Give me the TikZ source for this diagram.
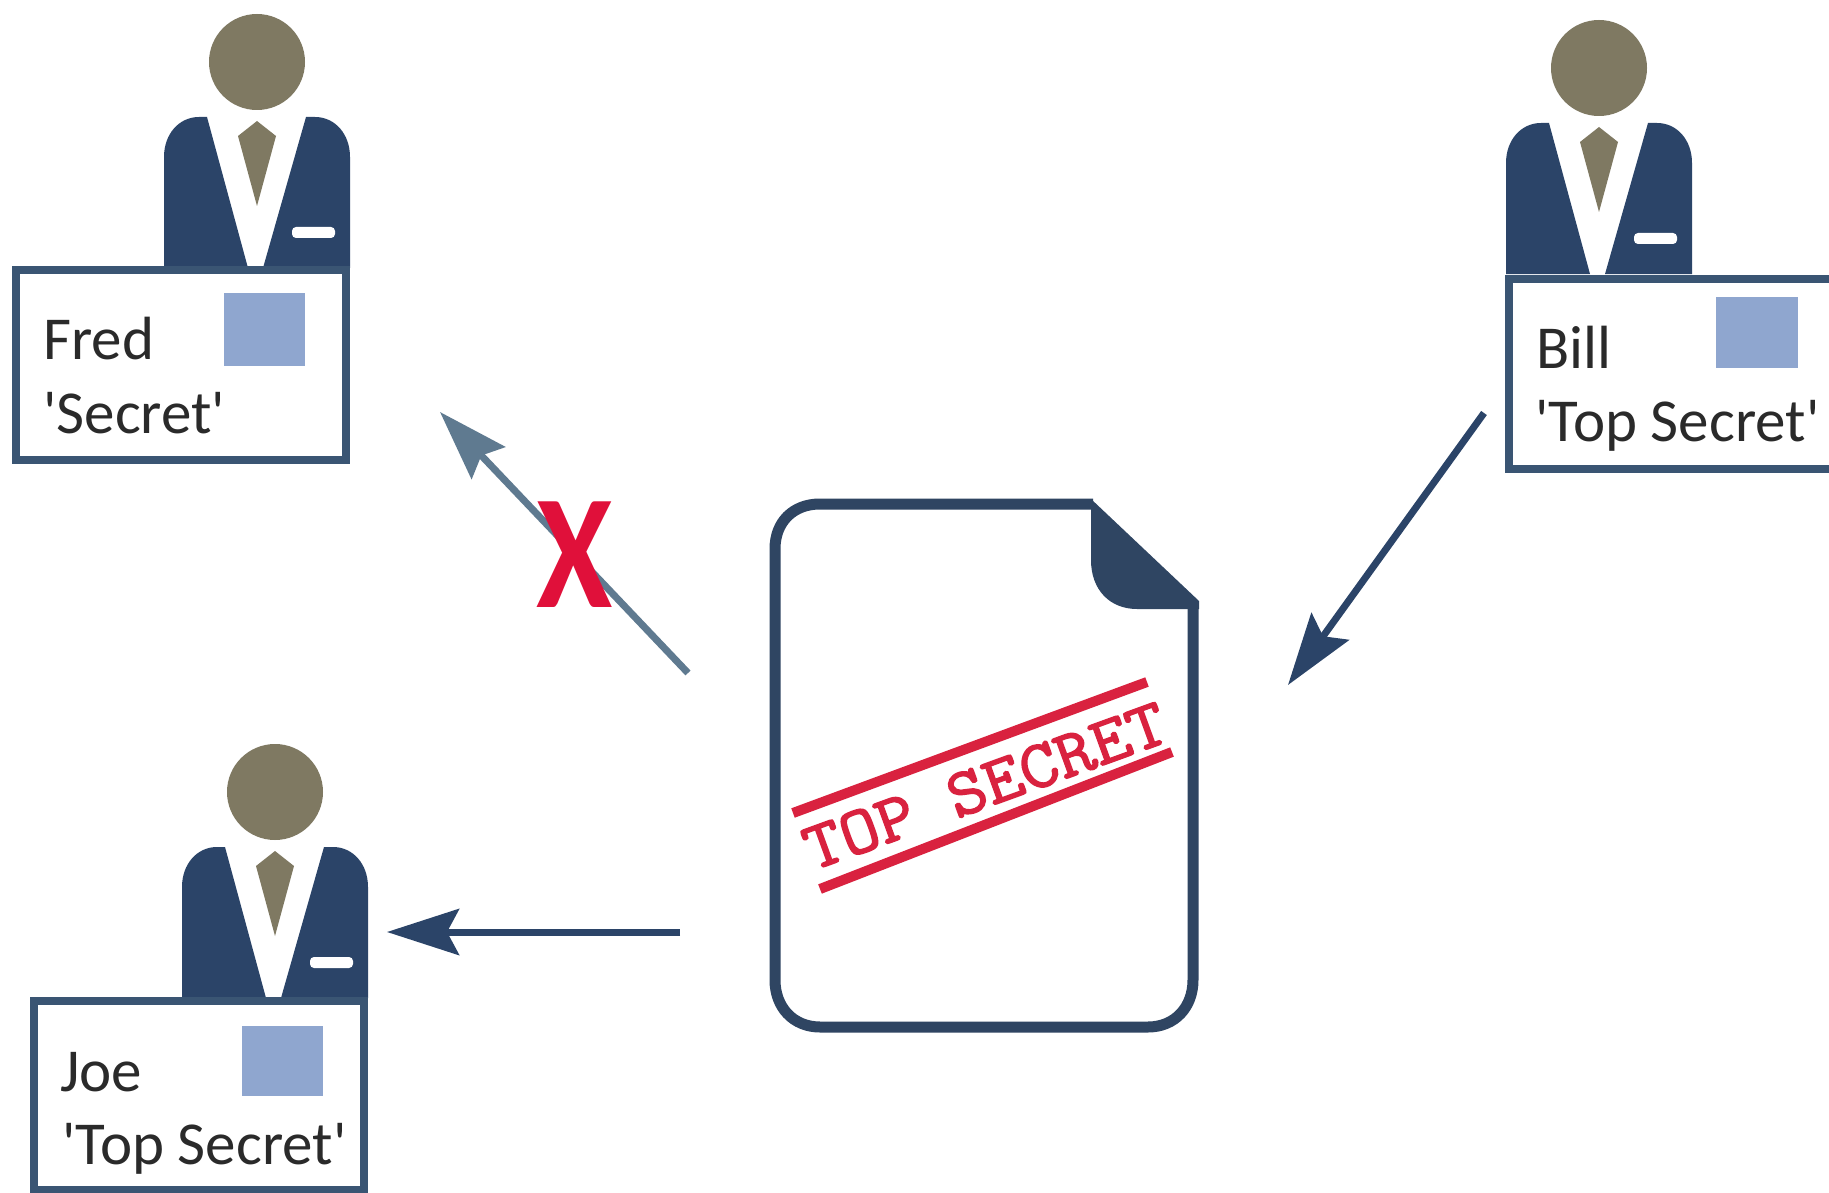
\documentclass[tikz,border=0pt]{standalone}
\usepackage{fontspec}
\usetikzlibrary{arrows.meta}
\newfontfamily\cardfont{Carlito}
\newfontfamily\stampfont{Latin Modern Mono}[FakeBold=2]
\definecolor{navy}{HTML}{2B4468}
\definecolor{docedge}{HTML}{2F4562}
\definecolor{cardedge}{HTML}{3A5573}
\definecolor{skin}{HTML}{7F7962}
\definecolor{badge}{HTML}{8FA6CF}
\definecolor{ink}{HTML}{2A2A2A}
\definecolor{stampred}{HTML}{D9223F}
\definecolor{crossred}{HTML}{E0103A}
\definecolor{slate}{HTML}{5F7A90}
\tikzset{
  x=1pt,y=-1pt,
  person/.pic={
    \fill[skin] (0,0) circle[radius=48];
    \fill[navy] (-93,206) -- (-93,95) .. controls (-93,72) and (-78,55) .. (-58,55) -- (-50,55) -- (-9,206) -- cycle;
    \fill[navy] (93,206) -- (93,95) .. controls (93,72) and (78,55) .. (58,55) -- (49,55) -- (6,206) -- cycle;
    \fill[skin] (0,59) -- (19,74) -- (0,144) -- (-19,74) -- cycle;
    \fill[white,rounded corners=4] (35,165) rectangle (78,176);
  },
  cardbox/.style={draw=cardedge,line width=8pt,fill=white},
  badgebox/.style={fill=badge},
  cardtext/.style={font=\cardfont\fontsize{61}{63}\selectfont,text=ink,anchor=base west,inner sep=0pt},
  flow/.style={draw=navy,line width=7pt,-{Stealth[length=72pt,width=46pt,inset=12pt]}},
  blocked/.style={draw=slate,line width=7pt,-{Stealth[length=70pt,width=46pt,inset=10pt]}},
  stampline/.style={draw=stampred,line width=10pt},
  stamptext/.style={font=\stampfont\fontsize{65}{66}\selectfont,text=stampred,inner sep=0pt,rotate=20},
  crossmark/.style={font=\cardfont\bfseries\fontsize{163}{165}\selectfont,text=crossred,inner sep=0pt,anchor=base},
}
\begin{document}
\begin{tikzpicture}
\useasboundingbox (0,0) rectangle (1829,1193);
\fill[white] (0,0) rectangle (1829,1193);
% Fred
\pic at (257,62) {person};
\draw[cardbox] (16,270) rectangle (346,460);
\fill[badgebox] (224,293) rectangle (305,366);
\node[cardtext] (fredname) at (43,359) {Fred};
\node[cardtext] (fredlevel) at (43,433) {'Secret'};
% Bill
\pic at (1599,68) {person};
\draw[cardbox] (1509,279) rectangle (1860,469);
\fill[badgebox] (1716,297) rectangle (1798,368);
\node[cardtext] (billname) at (1536,368) {Bill};
\node[cardtext] (billlevel) at (1535,441) {'Top Secret'};
% Joe
\pic at (275,792) {person};
\draw[cardbox] (34,1001) rectangle (364,1190);
\fill[badgebox] (242,1026) rectangle (323,1096);
\node[cardtext] (joename) at (60,1091) {Joe};
\node[cardtext] (joelevel) at (62,1164) {'Top Secret'};
% Document
\draw[docedge,line width=11pt,line join=round] (1093,504) -- (820,504) .. controls (793,504) and (775,522) .. (775,549) -- (775,980) .. controls (775,1007) and (793,1027) .. (820,1027) -- (1148,1027) .. controls (1175,1027) and (1193,1007) .. (1193,980) -- (1193,604);
\fill[docedge] (1091,499) -- (1199,601) -- (1199,609) -- (1137,609) .. controls (1110,609) and (1091,590) .. (1091,560) -- cycle;
% Stamp
\draw[stampline] (793,813) -- (1147,682);
\draw[stampline] (820,889) -- (1172,752);
\node[stamptext] (stamp) at (985,786) {\scalebox{1.14}[1.05]{TOP SECRET}};
% Connectors
\coordinate (billtail) at (1484,413);
\coordinate (billtip) at (1288,685);
\draw[flow] (billtail) -- (billtip);
\coordinate (joetail) at (680,932);
\coordinate (joetip) at (387,932);
\draw[flow] (joetail) -- (joetip);
\coordinate (fredtail) at (688,673);
\coordinate (fredtip) at (440,412);
\draw[blocked] (fredtail) -- (fredtip);
\node[crossmark] (cross) at (575,607) {\scalebox{0.85}[1]{X}};
\end{tikzpicture}
\end{document}
